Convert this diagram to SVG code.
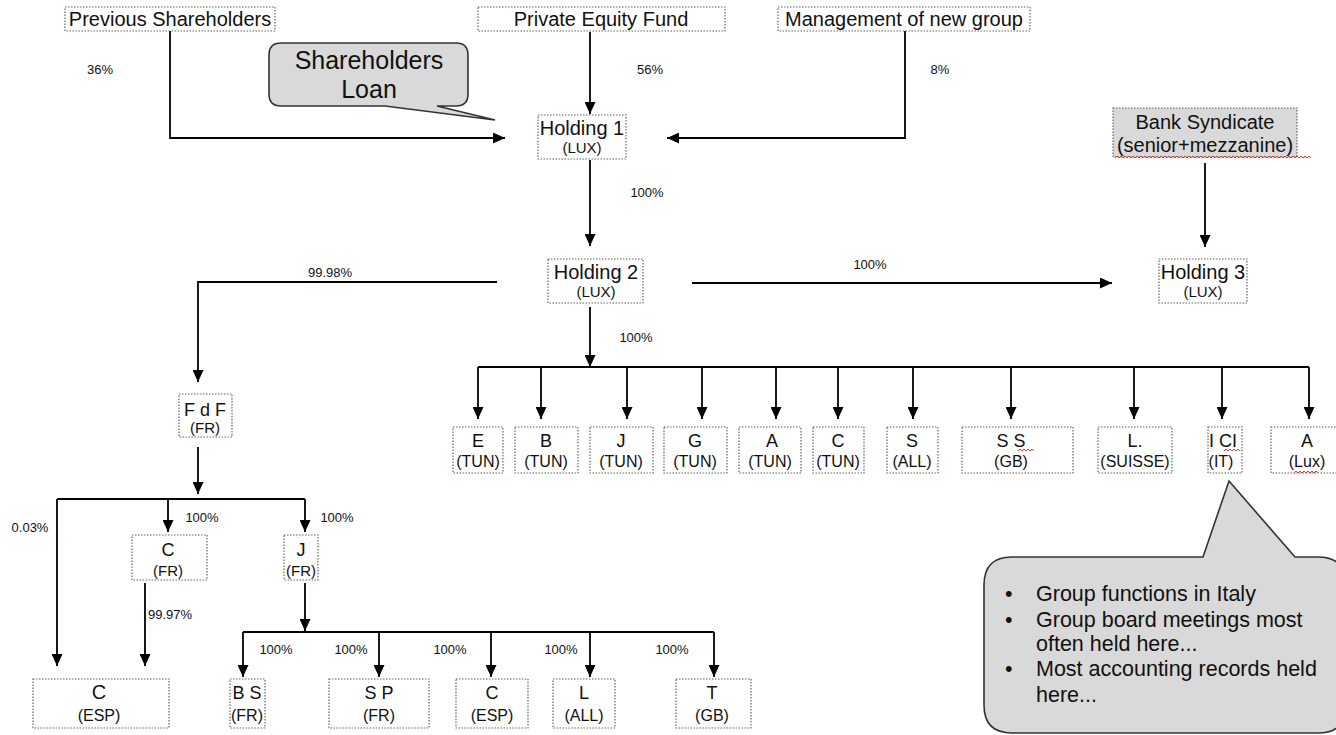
<svg xmlns="http://www.w3.org/2000/svg" width="1336" height="735" viewBox="0 0 1336 735">
<style>
text{font-family:"Liberation Sans",Arial,sans-serif;fill:#111;text-anchor:middle}
.box{fill:#fff;stroke:#666;stroke-width:1.2;stroke-dasharray:1.5 1.5}
.gbox{fill:#d9d9d9;stroke:#666;stroke-width:1.2;stroke-dasharray:1.5 1.5}
.t20{font-size:20px}.t18{font-size:18px}.t15{font-size:15px}.t16{font-size:16px}
.pct{font-size:13px}
.c{fill:none;stroke:#000;stroke-width:1.8}
.a{marker-end:url(#ah)}
.call{fill:#d9d9d9;stroke:#333;stroke-width:1.6}
.sq{fill:none;stroke:#e53935;stroke-width:1}
.bl{text-anchor:start;font-size:21.5px}
</style>
<defs>
<marker id="ah" markerUnits="userSpaceOnUse" markerWidth="12" markerHeight="11" refX="12" refY="5.5" orient="auto"><path d="M0,0 L12,5.5 L0,11 Z" fill="#000"/></marker>
</defs>
<g id="connectors">
<path class="c a" d="M170,31 V138 H505"/>
<path class="c a" d="M590,32 V114"/>
<path class="c a" d="M905,31 V138 H667"/>
<path class="c a" d="M590,160 V246"/>
<path class="c a" d="M497,282 H198 V382"/>
<path class="c a" d="M692,283 H1112"/>
<path class="c a" d="M1205,163 V247"/>
<path class="c a" d="M590,307 V367"/>
<path class="c" d="M478,367 H1309"/>
<path class="c a" d="M478,367 V419"/><path class="c a" d="M541,367 V419"/><path class="c a" d="M627,367 V419"/><path class="c a" d="M702,367 V419"/><path class="c a" d="M776,367 V419"/><path class="c a" d="M838,367 V419"/><path class="c a" d="M913,367 V419"/><path class="c a" d="M1011,367 V419"/><path class="c a" d="M1134,367 V419"/><path class="c a" d="M1222,367 V419"/><path class="c a" d="M1309,367 V419"/>
<path class="c a" d="M198,447 V494"/>
<path class="c" d="M57,499 H305"/>
<path class="c a" d="M57,499 V666"/>
<path class="c a" d="M168,499 V532"/>
<path class="c a" d="M305,499 V532"/>
<path class="c a" d="M145,583 V666"/>
<path class="c a" d="M305,583 V631"/>
<path class="c" d="M243,632 H714"/>
<path class="c a" d="M243,632 V677"/><path class="c a" d="M379,632 V677"/><path class="c a" d="M491,632 V677"/><path class="c a" d="M590,632 V677"/><path class="c a" d="M714,632 V677"/>
<text class="pct" x="100" y="74">36%</text>
<text class="pct" x="650" y="74">56%</text>
<text class="pct" x="940" y="74">8%</text>
<text class="pct" x="647" y="197">100%</text>
<text class="pct" x="330" y="277">99.98%</text>
<text class="pct" x="870" y="269">100%</text>
<text class="pct" x="636" y="342">100%</text>
<text class="pct" x="30" y="532">0.03%</text>
<text class="pct" x="202" y="522">100%</text>
<text class="pct" x="337" y="522">100%</text>
<text class="pct" x="170" y="619">99.97%</text>
<text class="pct" x="276" y="654">100%</text>
<text class="pct" x="351" y="654">100%</text>
<text class="pct" x="450" y="654">100%</text>
<text class="pct" x="561" y="654">100%</text>
<text class="pct" x="672" y="654">100%</text>
</g>
<g id="prev"><rect class="box" x="65" y="7" width="210" height="24"/><text class="t20" x="170" y="26">Previous Shareholders</text></g>
<g id="pef"><rect class="box" x="478" y="7" width="247" height="24"/><text class="t20" x="601" y="26">Private Equity Fund</text></g>
<g id="mgmt"><rect class="box" x="778" y="7" width="252" height="24"/><text class="t20" x="904" y="26">Management of new group</text></g>
<g id="loan"><path class="call" d="M281,43 H456 Q468,43 468,55 V94 Q468,106 456,106 H437 L495,120 L385,106 H281 Q269,106 269,94 V55 Q269,43 281,43 Z"/><text x="369" y="69" style="font-size:25px">Shareholders</text><text x="369" y="98" style="font-size:25px">Loan</text></g>
<g id="h1"><rect class="box" x="538" y="115" width="88" height="44"/><text class="t20" x="582" y="135">Holding 1</text><text class="t15" x="582" y="153">(LUX)</text></g>
<g id="bank"><rect class="gbox" x="1113" y="108" width="184" height="49"/><text class="t20" x="1205" y="129">Bank Syndicate</text><text class="t20" x="1205" y="152">(senior+mezzanine)</text></g>
<g id="h2"><rect class="box" x="548" y="259" width="95" height="44"/><text class="t20" x="596" y="279">Holding 2</text><text class="t15" x="596" y="297">(LUX)</text></g>
<g id="h3"><rect class="box" x="1159" y="259" width="88" height="44"/><text class="t20" x="1203" y="279">Holding 3</text><text class="t15" x="1203" y="297">(LUX)</text></g>
<g id="fdf"><rect class="box" x="179" y="394" width="53" height="43"/><text class="t18" x="205" y="416">F d F</text><text class="t15" x="205" y="433">(FR)</text></g>
<g id="e"><rect class="box" x="453" y="427" width="50" height="46"/><text class="t18" x="478" y="447">E</text><text class="t16" x="478" y="467">(TUN)</text></g>
<g id="b"><rect class="box" x="515" y="427" width="63" height="46"/><text class="t18" x="546" y="447">B</text><text class="t16" x="546" y="467">(TUN)</text></g>
<g id="j"><rect class="box" x="590" y="427" width="63" height="46"/><text class="t18" x="621" y="447">J</text><text class="t16" x="621" y="467">(TUN)</text></g>
<g id="g"><rect class="box" x="664" y="427" width="63" height="46"/><text class="t18" x="695" y="447">G</text><text class="t16" x="695" y="467">(TUN)</text></g>
<g id="a1"><rect class="box" x="739" y="427" width="62" height="46"/><text class="t18" x="772" y="447">A</text><text class="t16" x="770" y="467">(TUN)</text></g>
<g id="c1"><rect class="box" x="813" y="427" width="51" height="46"/><text class="t18" x="838" y="447">C</text><text class="t16" x="838" y="467">(TUN)</text></g>
<g id="s"><rect class="box" x="887" y="427" width="51" height="46"/><text class="t18" x="912" y="447">S</text><text class="t16" x="912" y="467">(ALL)</text></g>
<g id="ss"><rect class="box" x="962" y="427" width="111" height="46"/><text class="t18" x="1011" y="447">S S</text><text class="t16" x="1011" y="467">(GB)</text></g>
<g id="l"><rect class="box" x="1098" y="427" width="74" height="46"/><text class="t18" x="1135" y="447">L.</text><text class="t16" x="1135" y="467">(SUISSE)</text></g>
<g id="ici"><rect class="box" x="1208" y="427" width="34" height="46"/><text class="t18" x="1223" y="447">I CI</text><text class="t16" x="1221" y="467">(IT)</text></g>
<g id="a2"><rect class="box" x="1271" y="427" width="70" height="46"/><text class="t18" x="1307" y="447">A</text><text class="t16" x="1307" y="467">(Lux)</text></g>
<g id="cfr"><rect class="box" x="132" y="535" width="75" height="45"/><text class="t18" x="168" y="556">C</text><text class="t15" x="168" y="576">(FR)</text></g>
<g id="jfr"><rect class="box" x="284" y="535" width="34" height="45"/><text class="t18" x="301" y="556">J</text><text class="t15" x="301" y="576">(FR)</text></g>
<g id="cesp"><rect class="box" x="33" y="679" width="136" height="49"/><text class="t20" x="99" y="699">C</text><text class="t16" x="99" y="721">(ESP)</text></g>
<g id="bs"><rect class="box" x="230" y="679" width="35" height="49"/><text class="t18" x="247" y="699">B S</text><text class="t16" x="247" y="721">(FR)</text></g>
<g id="sp"><rect class="box" x="329" y="679" width="100" height="49"/><text class="t18" x="379" y="699">S P</text><text class="t16" x="379" y="721">(FR)</text></g>
<g id="cesp2"><rect class="box" x="456" y="679" width="72" height="49"/><text class="t18" x="492" y="699">C</text><text class="t16" x="492" y="721">(ESP)</text></g>
<g id="lall"><rect class="box" x="553" y="679" width="62" height="49"/><text class="t18" x="584" y="699">L</text><text class="t16" x="584" y="721">(ALL)</text></g>
<g id="tgb"><rect class="box" x="676" y="679" width="75" height="49"/><text class="t18" x="712" y="699">T</text><text class="t16" x="712" y="721">(GB)</text></g>
<g id="note"><path class="call" d="M1012,557 H1203 L1229,481 L1295,557 H1318 Q1346,557 1346,585 V705 Q1346,733 1318,733 H1012 Q984,733 984,705 V585 Q984,557 1012,557 Z"/>
<text class="bl" x="1005" y="601">•</text><text class="bl" x="1036" y="601">Group functions in Italy</text>
<text class="bl" x="1005" y="627">•</text><text class="bl" x="1036" y="627">Group board meetings most</text>
<text class="bl" x="1036" y="651">often held here...</text>
<text class="bl" x="1005" y="676">•</text><text class="bl" x="1036" y="676">Most accounting records held</text>
<text class="bl" x="1036" y="702">here...</text></g>
<g id="squiggles">
<path class="sq" d="M1115,158 l2,-2 2,2 2,-2 2,2 2,-2 2,2 2,-2 2,2 2,-2 2,2 2,-2 2,2 2,-2 2,2 2,-2 2,2 2,-2 2,2 2,-2 2,2 2,-2 2,2 2,-2 2,2 2,-2 2,2 2,-2 2,2 2,-2 2,2 2,-2 2,2 2,-2 2,2 2,-2 2,2 2,-2 2,2 2,-2 2,2 2,-2 2,2 2,-2 2,2 2,-2 2,2 2,-2 2,2 2,-2 2,2 2,-2 2,2 2,-2 2,2 2,-2 2,2 2,-2 2,2 2,-2 2,2 2,-2 2,2 2,-2 2,2 2,-2 2,2 2,-2 2,2 2,-2 2,2 2,-2 2,2 2,-2 2,2 2,-2 2,2 2,-2 2,2 2,-2 2,2 2,-2 2,2 2,-2 2,2 2,-2 2,2 2,-2 2,2 2,-2 2,2 2,-2 2,2 2,-2 2,2 2,-2 2,2 2,-2 2,2"/>
<path class="sq" d="M1018,451 l2,-2 2,2 2,-2 2,2 2,-2 2,2 2,-2 2,2"/>
<path class="sq" d="M1224,451 l2,-2 2,2 2,-2 2,2 2,-2 2,2 2,-2 2,2"/>
<path class="sq" d="M1294,473 l2,-2 2,2 2,-2 2,2 2,-2 2,2 2,-2 2,2 2,-2 2,2 2,-2 2,2"/>
</g>
</svg>
